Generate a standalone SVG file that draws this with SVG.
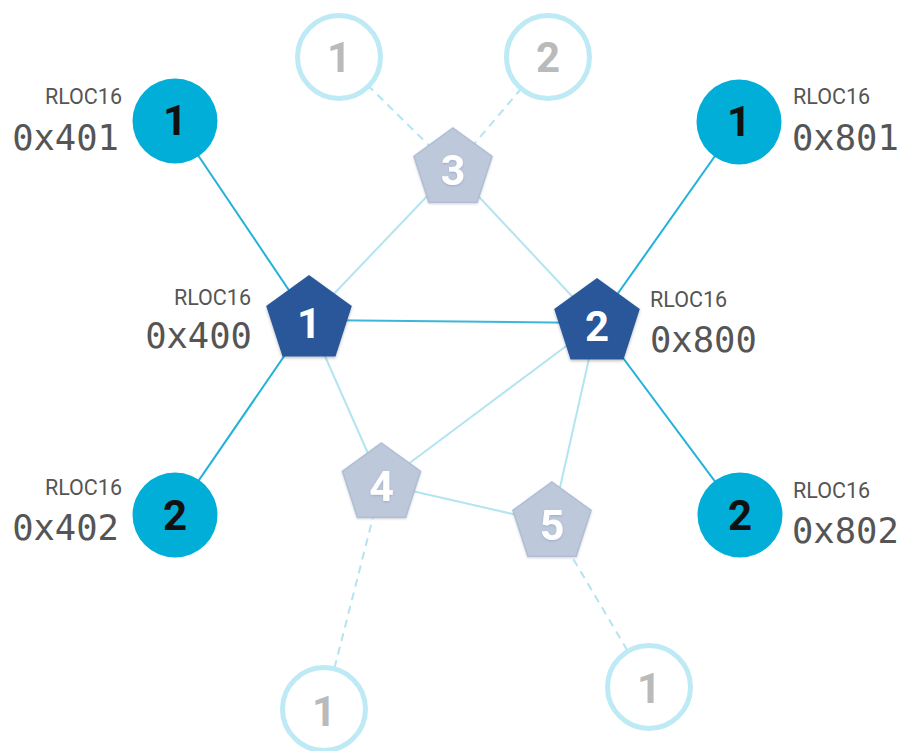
<svg xmlns="http://www.w3.org/2000/svg" width="907" height="751" viewBox="0 0 907 751">
  <defs>
    <polygon id="pent-big" points="0,-45 42.8,-13.9 26.5,36.4 -26.5,36.4 -42.8,-13.9"/>
    <polygon id="pent-small" points="0,-41 39,-12.7 24.1,33.2 -24.1,33.2 -39,-12.7"/>
    <filter id="shadow" x="-30%" y="-30%" width="160%" height="160%">
      <feDropShadow dx="0" dy="1.5" stdDeviation="1.5" flood-color="#000" flood-opacity="0.25"/>
    </filter>
    <filter id="soft" x="-30%" y="-30%" width="160%" height="160%">
      <feDropShadow dx="0" dy="1" stdDeviation="1.2" flood-color="#6b7a95" flood-opacity="0.35"/>
    </filter>
  </defs>
  <style>
    .link-child { stroke: #22b1d9; stroke-width: 2; fill: none; }
    .link-main { stroke: #3cb7da; stroke-width: 2; fill: none; }
    .link-light { stroke: #b3e4f1; stroke-width: 2; fill: none; }
    .link-dash { stroke: #b3e4f1; stroke-width: 2; fill: none; stroke-dasharray: 8 6; }
    .end-device { fill: #00aed8; }
    .end-label { font-family: Roboto, "Liberation Sans", sans-serif; font-weight: 700; font-size: 42px; fill: #111; text-anchor: middle; }
    .router { fill: #2b569a; filter: url(#shadow); }
    .router-label { font-family: Roboto, "Liberation Sans", sans-serif; font-weight: 700; font-size: 42px; fill: #fff; text-anchor: middle; }
    .reed { fill: #bdc8db; stroke: #b1bed4; stroke-width: 1.5; filter: url(#soft); }
    .reed-label { font-family: Roboto, "Liberation Sans", sans-serif; font-weight: 700; font-size: 43px; fill: #fff; text-anchor: middle; filter: url(#soft); }
    .ghost { fill: #fff; stroke: #bdeaf5; stroke-width: 5; }
    .ghost-label { font-family: Roboto, "Liberation Sans", sans-serif; font-weight: 700; font-size: 42px; fill: #bababa; text-anchor: middle; }
    .rloc { font-family: Roboto, "Liberation Sans", sans-serif; font-size: 21.5px; fill: #555; }
    .addr { font-family: "DejaVu Sans Mono", "Liberation Mono", monospace; font-size: 35.5px; fill: #555; }
    .end { text-anchor: end; }
  </style>

  <!-- connectors -->
  <g id="connectors">
    <line class="link-dash" x1="453" y1="169" x2="339" y2="57"/>
    <line class="link-dash" x1="453" y1="169" x2="548" y2="57"/>
    <line class="link-dash" x1="381.5" y1="484" x2="324" y2="709"/>
    <line class="link-dash" x1="552" y1="523" x2="649" y2="687"/>
    <line class="link-light" x1="309" y1="320" x2="453" y2="169"/>
    <line class="link-light" x1="453" y1="169" x2="597" y2="323"/>
    <line class="link-light" x1="309" y1="320" x2="381.5" y2="484"/>
    <line class="link-light" x1="381.5" y1="484" x2="597" y2="323"/>
    <line class="link-light" x1="381.5" y1="484" x2="552" y2="523"/>
    <line class="link-light" x1="552" y1="523" x2="597" y2="323"/>
    <line class="link-main" x1="309" y1="320" x2="597" y2="323"/>
    <line class="link-child" x1="175" y1="121" x2="309" y2="320"/>
    <line class="link-child" x1="175" y1="515" x2="309" y2="320"/>
    <line class="link-child" x1="739" y1="122" x2="597" y2="323"/>
    <line class="link-child" x1="740" y1="515" x2="597" y2="323"/>
  </g>

  <!-- unattached devices -->
  <g id="ghost-top-1">
    <circle class="ghost" cx="339" cy="57" r="41.5"/>
    <text class="ghost-label" x="339" y="72">1</text>
  </g>
  <g id="ghost-top-2">
    <circle class="ghost" cx="548" cy="57" r="41.5"/>
    <text class="ghost-label" x="548" y="72">2</text>
  </g>
  <g id="ghost-bottom-left">
    <circle class="ghost" cx="324" cy="709" r="41.5"/>
    <text class="ghost-label" x="324" y="726">1</text>
  </g>
  <g id="ghost-bottom-right">
    <circle class="ghost" cx="649" cy="687" r="41.5"/>
    <text class="ghost-label" x="649" y="703">1</text>
  </g>

  <!-- router-eligible end devices -->
  <g id="reed-3" transform="translate(453 169)">
    <use href="#pent-small" class="reed"/>
    <text class="reed-label" x="0" y="16">3</text>
  </g>
  <g id="reed-4" transform="translate(381.5 484)">
    <use href="#pent-small" class="reed"/>
    <text class="reed-label" x="0" y="17">4</text>
  </g>
  <g id="reed-5" transform="translate(552 523)">
    <use href="#pent-small" class="reed"/>
    <text class="reed-label" x="0" y="17">5</text>
  </g>

  <!-- routers -->
  <g id="router-1">
    <use href="#pent-big" class="router" transform="translate(309 320)"/>
    <text class="router-label" x="309" y="338">1</text>
    <text class="rloc end" x="251" y="305">RLOC16</text>
    <text class="addr end" x="252" y="348">0x400</text>
  </g>
  <g id="router-2">
    <use href="#pent-big" class="router" transform="translate(597 323)"/>
    <text class="router-label" x="597" y="341">2</text>
    <text class="rloc" x="650" y="307">RLOC16</text>
    <text class="addr" x="650" y="352">0x800</text>
  </g>

  <!-- child end devices -->
  <g id="child-401">
    <circle class="end-device" cx="175" cy="121" r="42.5"/>
    <text class="end-label" x="175" y="135">1</text>
    <text class="rloc end" x="122" y="104">RLOC16</text>
    <text class="addr end" x="119" y="150">0x401</text>
  </g>
  <g id="child-402">
    <circle class="end-device" cx="175" cy="515" r="42.5"/>
    <text class="end-label" x="175" y="530">2</text>
    <text class="rloc end" x="122" y="495">RLOC16</text>
    <text class="addr end" x="119" y="540">0x402</text>
  </g>
  <g id="child-801">
    <circle class="end-device" cx="739" cy="122" r="42.5"/>
    <text class="end-label" x="739" y="136">1</text>
    <text class="rloc" x="793" y="104">RLOC16</text>
    <text class="addr" x="792" y="150">0x801</text>
  </g>
  <g id="child-802">
    <circle class="end-device" cx="740" cy="515" r="42.5"/>
    <text class="end-label" x="740" y="530">2</text>
    <text class="rloc" x="793" y="498">RLOC16</text>
    <text class="addr" x="792" y="543">0x802</text>
  </g>
</svg>
